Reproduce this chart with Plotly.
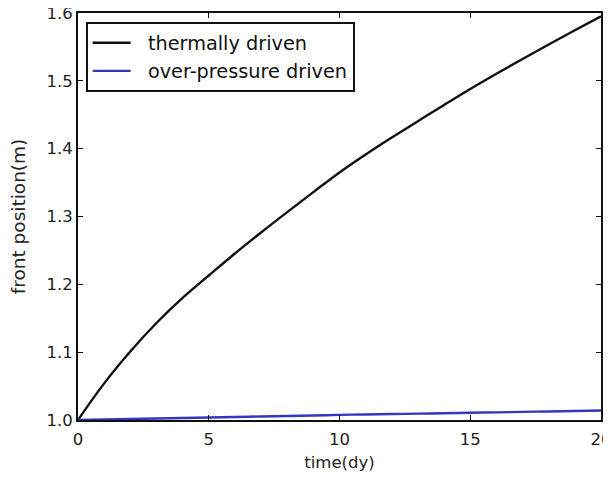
import plotly.graph_objects as go

time_days = [0, 1, 2, 3, 4, 5, 6, 7, 8, 9, 10, 11, 12, 13, 14, 15, 16, 17, 18, 19, 20]
thermally_driven = [1.000, 1.054, 1.101, 1.143, 1.180, 1.213, 1.2455, 1.2765, 1.3065, 1.336,
                    1.365, 1.3915, 1.4165, 1.4405, 1.4645, 1.488, 1.5105, 1.5323, 1.5536, 1.5746, 1.595]
over_pressure_driven = [1.000, 1.0008, 1.0015, 1.0022, 1.003, 1.0037, 1.0045, 1.0052, 1.006, 1.0067,
                        1.0075, 1.0082, 1.0088, 1.0094, 1.010, 1.0107, 1.0113, 1.012, 1.0126, 1.0133, 1.014]
x_ticks = [0, 5, 10, 15, 20]
y_ticks = [1.0, 1.1, 1.2, 1.3, 1.4, 1.5, 1.6]
series_names = ["\u00a0\u00a0thermally driven", "\u00a0\u00a0over-pressure driven"]

fig = go.Figure()
fig.add_trace(go.Scatter(x=time_days, y=thermally_driven, mode="lines",
                         name=series_names[0],
                         line=dict(color="#111111", width=2.4, shape="spline", smoothing=1.0)))
fig.add_trace(go.Scatter(x=time_days, y=over_pressure_driven, mode="lines",
                         name=series_names[1],
                         line=dict(color="#3535c0", width=2.4, shape="spline", smoothing=1.0)))

axis_common = dict(showline=True, linecolor="#111111", linewidth=1.8, mirror="ticks",
                   ticks="inside", ticklen=5, tickwidth=1.3, tickcolor="#111111",
                   showgrid=False, zeroline=False, automargin=False,
                   ticklabeloverflow="allow",
                   tickfont=dict(family="DejaVu Sans", size=16.5, color="#222222"))

# the page body adds an 8px margin, so the figure is sized to fit the 611x480 window
fig.update_layout(
    width=603, height=464,
    margin=dict(l=70, r=10, t=5, b=52, autoexpand=False),
    paper_bgcolor="white", plot_bgcolor="white",
    xaxis=dict(range=[0, 20], tickvals=x_ticks, ticktext=[str(v) for v in x_ticks],
               ticklabelstandoff=3,
               title=dict(text="time(dy)", font=dict(family="DejaVu Sans", size=16.5, color="#222222"),
                          standoff=12),
               **axis_common),
    yaxis=dict(range=[1.0, 1.6], tickvals=y_ticks, ticktext=[f"{v:.1f}" for v in y_ticks],
               title=dict(text="front position(m)", font=dict(family="DejaVu Sans", size=18.5, color="#222222"),
                          standoff=18),
               **axis_common),
    legend=dict(x=0.015, y=0.978, xanchor="left", yanchor="top",
                bgcolor="white", bordercolor="#111111", borderwidth=1.8,
                font=dict(family="DejaVu Sans", size=19.3, color="#111111"),
                itemwidth=38),
    showlegend=True,
)

fig.write_html("out.html", default_width="603px", default_height="464px")
